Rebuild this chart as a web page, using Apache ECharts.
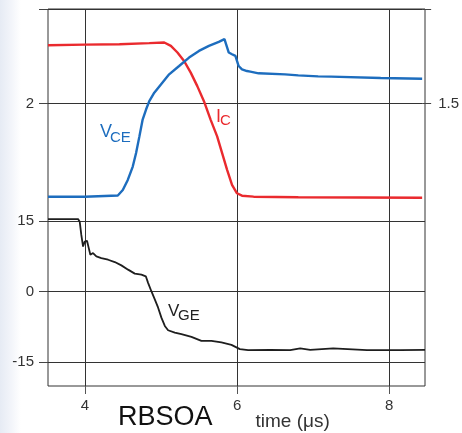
<!DOCTYPE html>
<html>
<head>
<meta charset="utf-8">
<script src="https://cdn.jsdelivr.net/npm/echarts@6/dist/echarts.min.js"></script>
<style>
html,body{margin:0;padding:0;background:#fff;}
#chart{width:462px;height:433px;}
</style>
</head>
<body>
<div id="chart"></div>
<script>
// ---- data ----
const xTickLabels = [4, 6, 8];
const icTickLabels = [2];
const vceTickLabels = [1.5];
const vgeTickLabels = [-15, 0, 15];

const timeIC = [3.513, 4.0, 4.46, 4.855, 5.053, 5.141, 5.228, 5.316, 5.404, 5.491, 5.579, 5.667, 5.754, 5.820, 5.886, 5.951, 6.017, 6.083, 6.237, 6.829, 8.47];
const valIC  = [3.234, 3.245, 3.255, 3.277, 3.291, 3.219, 3.079, 2.900, 2.653, 2.368, 2.049, 1.660, 1.304, 0.951, 0.596, 0.277, 0.100, 0.049, 0.028, 0.015, 0.006];

const timeVCE = [3.513, 4.0, 4.438, 4.504, 4.570, 4.636, 4.680, 4.724, 4.767, 4.812, 4.855, 4.921, 5.009, 5.118, 5.250, 5.382, 5.513, 5.645, 5.776, 5.851, 5.908, 5.951, 5.996, 6.039, 6.083, 6.149, 6.193, 6.303, 6.654, 6.829, 7.092, 7.263, 7.921, 8.47];
const valVCE  = [0.02, 0.02, 0.04, 0.128, 0.287, 0.499, 0.713, 0.978, 1.245, 1.404, 1.537, 1.671, 1.803, 1.963, 2.095, 2.229, 2.335, 2.414, 2.478, 2.521, 2.309, 2.282, 2.255, 2.095, 2.043, 2.015, 2.006, 1.979, 1.963, 1.947, 1.931, 1.926, 1.904, 1.894];

const timeVGE = [3.513, 3.908, 3.930, 3.951, 3.974, 3.996, 4.026, 4.049, 4.070, 4.105, 4.149, 4.214, 4.303, 4.391, 4.478, 4.566, 4.654, 4.741, 4.799, 4.829, 4.872, 4.917, 4.961, 5.004, 5.049, 5.092, 5.180, 5.267, 5.399, 5.530, 5.662, 5.793, 5.925, 6.036, 6.145, 6.171, 6.434, 6.697, 6.829, 6.961, 7.263, 7.707, 8.145, 8.47];
const valVGE  = [15.42, 15.42, 14.85, 12.04, 9.57, 10.63, 10.78, 9.23, 7.82, 8.18, 7.46, 7.12, 6.76, 6.27, 5.56, 4.65, 3.80, 3.59, 3.23, 1.84, 0.06, -1.69, -3.44, -5.56, -7.33, -8.24, -8.73, -9.08, -9.66, -10.50, -10.50, -10.84, -11.35, -12.25, -12.47, -12.61, -12.40, -12.47, -12.11, -12.40, -12.11, -12.47, -12.47, -12.40];

const xMin = 3.513, xMax = 8.47;

// ---- chart ----
const FONT = 'Liberation Sans, Arial, Helvetica, sans-serif';
const GRID_COLOR = '#333333';
const pairs = (xs, ys) => xs.map((x, i) => [x, ys[i]]);
const chart = echarts.init(document.getElementById('chart'), null, {renderer: 'canvas'});

const hiddenX = (g) => ({gridIndex: g, type: 'value', min: xMin, max: xMax, show: false});

const option = {
  animation: false,
  backgroundColor: {
    type: 'linear', x: 0, y: 0, x2: 1, y2: 0,
    colorStops: [
      {offset: 0, color: '#e6ebf4'},
      {offset: 0.025, color: '#f3f5fa'},
      {offset: 0.045, color: '#ffffff'},
      {offset: 1, color: '#ffffff'}
    ]
  },
  grid: [
    {left: 48, right: 37, top: 9, bottom: 47, show: true, borderColor: GRID_COLOR, borderWidth: 1, backgroundColor: 'transparent'},
    {left: 48, right: 37, top: 9, height: 189},
    {left: 48, right: 37, top: 221, height: 141}
  ],
  xAxis: [
    {
      gridIndex: 0, type: 'value', min: xMin, max: xMax, splitNumber: 5,
      axisLine: {show: false},
      splitLine: {show: true, lineStyle: {color: GRID_COLOR, width: 1}},
      axisTick: {show: true, customValues: xTickLabels, length: 8, lineStyle: {color: '#555'}},
      axisLabel: {customValues: xTickLabels, margin: 12, color: '#333', fontSize: 15, fontFamily: FONT}
    },
    hiddenX(1),
    hiddenX(2)
  ],
  yAxis: [
    {gridIndex: 0, type: 'value', min: 0, max: 1, show: false},
    {
      gridIndex: 1, type: 'value', position: 'left', min: 0, max: 4, interval: 1,
      axisLine: {show: false},
      splitLine: {show: true, lineStyle: {color: GRID_COLOR, width: 1}},
      axisTick: {show: true, customValues: [2, 4], length: 9, lineStyle: {color: '#444'}},
      axisLabel: {customValues: icTickLabels, margin: 14, color: '#333', fontSize: 15, fontFamily: FONT}
    },
    {
      gridIndex: 1, type: 'value', position: 'right', min: 0, max: 3, interval: 0.75,
      axisLine: {show: false},
      splitLine: {show: false},
      axisTick: {show: true, customValues: [1.5, 3], length: 9, lineStyle: {color: '#444'}},
      axisLabel: {customValues: vceTickLabels, margin: 16, color: '#333', fontSize: 15, fontFamily: FONT}
    },
    {
      gridIndex: 2, type: 'value', position: 'left', min: -15, max: 15, interval: 7.5,
      axisLine: {show: false},
      splitLine: {show: true, lineStyle: {color: GRID_COLOR, width: 1}},
      axisTick: {show: true, customValues: vgeTickLabels, length: 9, lineStyle: {color: '#444'}},
      axisLabel: {customValues: vgeTickLabels, margin: 14, color: '#333', fontSize: 15, fontFamily: FONT}
    }
  ],
  series: [
    {
      name: 'IC', type: 'line', xAxisIndex: 1, yAxisIndex: 1, data: pairs(timeIC, valIC),
      showSymbol: false, clip: false, lineStyle: {color: '#ea2a2e', width: 2.4}, itemStyle: {color: '#ea2a2e'}, z: 3
    },
    {
      name: 'VCE', type: 'line', xAxisIndex: 1, yAxisIndex: 2, data: pairs(timeVCE, valVCE),
      showSymbol: false, clip: false, lineStyle: {color: '#1d6dbe', width: 2.4}, itemStyle: {color: '#1d6dbe'}, z: 4
    },
    {
      name: 'VGE', type: 'line', xAxisIndex: 2, yAxisIndex: 3, data: pairs(timeVGE, valVGE),
      showSymbol: false, clip: false, lineStyle: {color: '#1e1e1e', width: 1.8}, itemStyle: {color: '#1e1e1e'}, z: 3
    }
  ],
  graphic: [
    {type: 'text', x: 100, y: 123, style: {text: 'V', font: '18px ' + FONT, fill: '#1d6dbe', verticalAlign: 'top'}},
    {type: 'text', x: 110, y: 130, style: {text: 'CE', font: '15px ' + FONT, fill: '#1d6dbe', verticalAlign: 'top'}},
    {type: 'text', x: 216, y: 108, style: {text: 'I', font: '18px ' + FONT, fill: '#ea2a2e', verticalAlign: 'top'}},
    {type: 'text', x: 220, y: 113.5, style: {text: 'C', font: '15px ' + FONT, fill: '#ea2a2e', verticalAlign: 'top'}},
    {type: 'text', x: 168, y: 302.5, style: {text: 'V', font: '17px ' + FONT, fill: '#222', verticalAlign: 'top'}},
    {type: 'text', x: 178, y: 308, style: {text: 'GE', font: '15px ' + FONT, fill: '#222', verticalAlign: 'top'}},
    {type: 'text', x: 118, y: 404, style: {text: 'RBSOA', font: '27px ' + FONT, fill: '#111', verticalAlign: 'top'}},
    {type: 'text', x: 255.5, y: 412.5, style: {text: 'time (μs)', font: '19px ' + FONT, fill: '#333', verticalAlign: 'top'}}
  ]
};
chart.setOption(option);
</script>
</body>
</html>
